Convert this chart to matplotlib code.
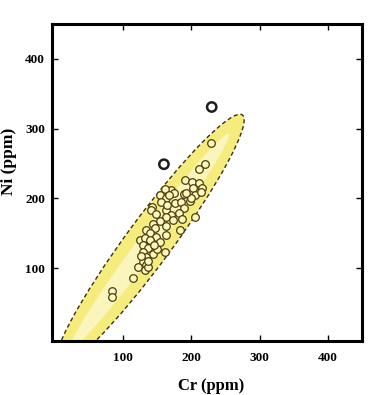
import matplotlib.pyplot as plt
import numpy as np
from matplotlib.patches import Ellipse

plt.rcParams['font.family'] = ['Liberation Serif', 'DejaVu Serif']
plt.rcParams['font.weight'] = 'bold'

# sample analyses (ppm)
cr = [228.5, 219.6, 211, 191, 201.6, 212, 215.7, 202.5, 190, 205,
      214.7, 170.8, 162, 153.7, 163.5, 143, 141.5, 163.5, 175.7, 185.5,
      189, 181.6, 170.8, 162.5, 205, 173, 153.7, 143.9, 163.5, 147,
      183, 134, 139, 163.5, 148.8, 124.5, 132.7, 141.5, 129, 148.8,
      136.6, 129, 144, 134, 162, 129, 122, 134, 132, 136.6,
      114.7, 84, 84, 140, 150, 155, 145, 175, 167, 156,
      198, 200, 148, 165, 186, 192, 137, 126]
ni = [280, 248.9, 242, 226, 224, 222, 214.5, 214.5, 207, 205,
      209.7, 212, 213, 205, 200, 188, 183, 183, 193, 195,
      186, 179, 176, 174, 174, 169, 167, 164, 160, 157,
      155, 155, 150, 148, 145, 140.5, 143, 138, 133, 131,
      128.5, 124, 121, 116.6, 124, 109, 102, 105, 97.5, 102,
      85.5, 67, 59, 140, 128, 137, 133, 208, 205, 195,
      196, 200, 178, 190, 170, 208, 110, 118]

# two outlying samples
cr_out = [160, 230]
ni_out = [249, 331]

# compositional field (ellipse): centre, full length, full width, tilt
field_center = (139, 139)
field_length = 452
field_width = 66
field_angle = 53

fig = plt.figure(figsize=(3.79, 3.95), dpi=100)
ax = fig.add_axes([0.137, 0.137, 0.818, 0.8025])

outer = Ellipse(field_center, field_length, field_width, angle=field_angle,
                facecolor='#f3e548', alpha=0.7, edgecolor='none', zorder=1)
ax.add_patch(outer)
inner = Ellipse(field_center, field_length * 0.85, field_width * 0.45, angle=field_angle,
                facecolor='#fcf8cc', alpha=0.8, edgecolor='none', zorder=1)
ax.add_patch(inner)
edge = Ellipse(field_center, field_length, field_width, angle=field_angle,
               facecolor='none', edgecolor='#3a2e10', lw=1.0,
               linestyle=(0, (3, 2)), zorder=2)
ax.add_patch(edge)

ax.scatter(cr, ni, s=30, facecolor='#fdf7c0', edgecolor='#4d3d0a', linewidth=0.9, zorder=3)
ax.scatter(cr_out, ni_out, s=45, facecolor='none', edgecolor='#1e1e1e', linewidth=1.8, zorder=3)

ax.set_xlim(-4, 450)
ax.set_ylim(-4, 450)
ax.set_xticks([100, 200, 300, 400])
ax.set_yticks([100, 200, 300, 400])
ax.tick_params(direction='in', length=4, width=1, top=True, right=True, labelsize=9.5)
ax.tick_params(axis='x', pad=8)
ax.tick_params(axis='y', pad=5)
for s in ax.spines.values():
    s.set_linewidth(2.2)

ax.set_xlabel('Cr (ppm)', fontsize=12, fontweight='bold')
ax.set_ylabel('Ni (ppm)', fontsize=12.5, fontweight='bold')
ax.xaxis.set_label_coords(0.513, -0.117)
ax.yaxis.set_label_coords(-0.112, 0.565)

fig.savefig('out.png', dpi=100)
